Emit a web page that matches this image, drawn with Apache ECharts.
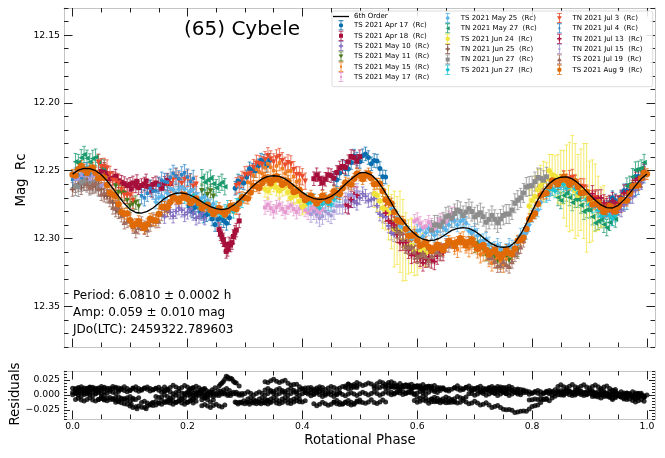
<!DOCTYPE html>
<html>
<head>
<meta charset="utf-8">
<title>(65) Cybele</title>
<script src="https://cdn.jsdelivr.net/npm/echarts@6/dist/echarts.min.js"></script>
<style>
html, body { margin: 0; padding: 0; background: #fff; }
#chart { width: 665px; height: 458px; }
</style>
</head>
<body>
<div id="chart"></div>
<script>
// 6th order Fourier fit
var fitPhase = [0.00,0.01,0.02,0.03,0.04,0.05,0.06,0.07,0.08,0.09,0.10,0.11,0.12,0.13,0.14,0.15,0.16,0.17,0.18,0.19,
    0.20,0.21,0.22,0.23,0.24,0.25,0.26,0.27,0.28,0.29,0.30,0.31,0.32,0.33,0.34,0.35,0.36,0.37,0.38,0.39,
    0.40,0.41,0.42,0.43,0.44,0.45,0.46,0.47,0.48,0.49,0.50,0.51,0.52,0.53,0.54,0.55,0.56,0.57,0.58,0.59,
    0.60,0.61,0.62,0.63,0.64,0.65,0.66,0.67,0.68,0.69,0.70,0.71,0.72,0.73,0.74,0.75,0.76,0.77,0.78,0.79,
    0.80,0.81,0.82,0.83,0.84,0.85,0.86,0.87,0.88,0.89,0.90,0.91,0.92,0.93,0.94,0.95,0.96,0.97,0.98,0.99,1.00];
var fitMag = [12.2525,12.2495,12.2482,12.2485,12.2500,12.2530,12.2575,12.2630,12.2688,12.2742,
    12.2785,12.2808,12.2812,12.2800,12.2775,12.2740,12.2705,12.2680,12.2666,12.2664,
    12.2672,12.2690,12.2715,12.2742,12.2765,12.2780,12.2787,12.2780,12.2755,12.2720,
    12.2675,12.2630,12.2590,12.2560,12.2542,12.2537,12.2542,12.2560,12.2590,12.2625,
    12.2660,12.2688,12.2705,12.2712,12.2708,12.2690,12.2660,12.2620,12.2580,12.2545,
    12.2515,12.2512,12.2530,12.2570,12.2630,12.2700,12.2775,12.2840,12.2895,12.2945,
    12.2982,12.3005,12.3016,12.3012,12.2995,12.2968,12.2940,12.2925,12.2920,12.2925,
    12.2945,12.2975,12.3010,12.3040,12.3060,12.3066,12.3060,12.3030,12.2970,12.2890,
    12.2800,12.2715,12.2645,12.2595,12.2562,12.2548,12.2546,12.2560,12.2590,12.2630,
    12.2675,12.2718,12.2752,12.2772,12.2775,12.2755,12.2715,12.2665,12.2610,12.2560,12.2525];

// observations [phase, mag]
var apr17 = [[0.203,12.2762],[0.213,12.2772],[0.223,12.2806],[0.233,12.2825],[0.243,12.2856],[0.253,12.2859],[0.263,12.2869],[0.273,12.2847],
    [0.283,12.2629],[0.293,12.2584],[0.303,12.2546],[0.313,12.2496],[0.323,12.2464],[0.333,12.2431],[0.343,12.2422],
    [0.455,12.2558],[0.465,12.2516],[0.475,12.2485],[0.485,12.2440],[0.495,12.2414],[0.505,12.2390],[0.515,12.2403],[0.525,12.2425],[0.535,12.2484],[0.545,12.2547],
    [0.935,12.2737],[0.945,12.2721],[0.955,12.2700],[0.965,12.2647],[0.975,12.2602],[0.985,12.2543],[0.995,12.2505],
    [0.208,12.2797],[0.218,12.2754],[0.228,12.2835],[0.238,12.2815],[0.248,12.2897],[0.258,12.2849],[0.268,12.2888],
    [0.288,12.2576],[0.298,12.2590],[0.308,12.2486],[0.318,12.2500],[0.328,12.2422],[0.338,12.2461],
    [0.460,12.2567],[0.470,12.2470],[0.480,12.2487],[0.490,12.2392],[0.500,12.2432],[0.510,12.2376],[0.520,12.2449],[0.530,12.2429],[0.540,12.2545],
    [0.940,12.2699],[0.950,12.2740],[0.960,12.2648],[0.970,12.2659],[0.980,12.2542],[0.990,12.2549]];
var apr18 = [[0.050,12.2504],[0.060,12.2522],[0.070,12.2555],[0.080,12.2574],[0.085,12.2585],[0.090,12.2595],[0.095,12.2610],[0.100,12.2600],[0.105,12.2590],[0.110,12.2612],
    [0.115,12.2625],[0.120,12.2609],[0.125,12.2598],[0.130,12.2615],[0.135,12.2620],[0.140,12.2601],[0.145,12.2590],[0.150,12.2603],[0.160,12.2593],[0.170,12.2594],
    [0.255,12.2934],[0.260,12.2987],[0.265,12.3044],[0.270,12.3080],[0.275,12.3048],[0.280,12.2985],[0.285,12.2938],[0.290,12.2870],
    [0.420,12.2559],[0.430,12.2559],[0.440,12.2563],[0.450,12.2536],[0.460,12.2513],[0.470,12.2468],[0.480,12.2434],[0.490,12.2402],[0.500,12.2397],
    [0.055,12.2490],[0.065,12.2560],[0.075,12.2540],[0.102,12.2635],[0.112,12.2580],[0.128,12.2575],[0.138,12.2645],[0.155,12.2630],[0.165,12.2570],
    [0.2575,12.2965],[0.2625,12.3010],[0.2675,12.3095],[0.2725,12.3040],[0.2775,12.3030],[0.2825,12.2955],
    [0.425,12.2530],[0.435,12.2590],[0.445,12.2530],[0.455,12.2555],[0.465,12.2480],[0.475,12.2475],[0.485,12.2395],[0.495,12.2430]];
var may10 = [[0.160,12.2838],[0.170,12.2806],[0.180,12.2801],[0.190,12.2791],[0.200,12.2806],[0.210,12.2815],[0.220,12.2837],[0.230,12.2849],
    [0.480,12.2764],[0.490,12.2722],[0.500,12.2700],[0.510,12.2688],[0.520,12.2713],[0.530,12.2758],[0.540,12.2834],[0.550,12.2907],[0.560,12.2972],
    [0.940,12.2808],[0.950,12.2781],[0.960,12.2750],[0.970,12.2692],[0.980,12.2644],[0.990,12.2588],
    [0.165,12.2790],[0.175,12.2835],[0.185,12.2775],[0.195,12.2825],[0.205,12.2785],[0.215,12.2850],[0.225,12.2815],
    [0.485,12.2720],[0.495,12.2740],[0.505,12.2670],[0.515,12.2720],[0.525,12.2705],[0.535,12.2820],[0.545,12.2840],[0.555,12.2960],
    [0.945,12.2770],[0.955,12.2790],[0.965,12.2700],[0.975,12.2690],[0.985,12.2590]];
var may11 = [[0.075,12.2612],[0.085,12.2661],[0.095,12.2719],[0.105,12.2744],[0.115,12.2764],
    [0.225,12.2648],[0.235,12.2676],[0.245,12.2688],
    [0.695,12.3018],[0.705,12.3036],[0.715,12.3077],[0.725,12.3102],[0.735,12.3134],[0.745,12.3138],[0.755,12.3146],[0.765,12.3123],[0.775,12.3084],
    [0.080,12.2660],[0.090,12.2670],[0.100,12.2760],[0.110,12.2735],[0.230,12.2690],[0.240,12.2650],
    [0.700,12.3055],[0.710,12.3030],[0.720,12.3115],[0.730,12.3090],[0.740,12.3165],[0.750,12.3110],[0.760,12.3160],[0.770,12.3080]];
var may15 = [[0.305,12.2585],[0.315,12.2536],[0.325,12.2510],[0.335,12.2478],[0.345,12.2474],[0.355,12.2465],[0.365,12.2484],[0.375,12.2503],[0.385,12.2542],[0.395,12.2570],
    [0.665,12.3055],[0.675,12.3038],[0.685,12.3047],[0.695,12.3052],[0.705,12.3084],[0.715,12.3107],[0.725,12.3148],[0.735,12.3158],[0.745,12.3167],[0.755,12.3150],
    [0.310,12.2590],[0.320,12.2490],[0.330,12.2520],[0.340,12.2450],[0.350,12.2500],[0.360,12.2440],[0.370,12.2520],[0.380,12.2500],[0.390,12.2580],
    [0.670,12.3080],[0.680,12.3010],[0.690,12.3075],[0.700,12.3040],[0.710,12.3120],[0.720,12.3100],[0.730,12.3180],[0.740,12.3140],[0.750,12.3190]];
var may17 = [[0.335,12.2771],[0.345,12.2776],[0.355,12.2769],[0.365,12.2781],[0.375,12.2772],[0.385,12.2783],[0.395,12.2778],[0.405,12.2789],[0.415,12.2782],[0.425,12.2794],[0.435,12.2785],
    [0.595,12.2873],[0.605,12.2889],[0.615,12.2910],[0.625,12.2902],[0.635,12.2897],[0.645,12.2870],[0.655,12.2847],[0.665,12.2818],
    [0.340,12.2750],[0.350,12.2800],[0.360,12.2750],[0.370,12.2805],[0.380,12.2755],[0.390,12.2805],[0.400,12.2760],[0.410,12.2810],[0.420,12.2770],[0.430,12.2810],
    [0.600,12.2860],[0.610,12.2920],[0.620,12.2880],[0.630,12.2925],[0.640,12.2865],[0.650,12.2880],[0.660,12.2820]];
var may25 = [[0.145,12.2731],[0.155,12.2688],[0.165,12.2667],[0.175,12.2640],[0.185,12.2639],[0.195,12.2636],[0.205,12.2654],[0.215,12.2668],[0.225,12.2703],[0.235,12.2720],[0.245,12.2746],
    [0.555,12.2783],[0.565,12.2851],[0.575,12.2925],[0.585,12.2960],[0.595,12.2984],[0.605,12.2938],[0.615,12.2958],[0.625,12.2951],[0.635,12.2948],[0.645,12.2919],
    [0.655,12.2898],[0.665,12.2870],[0.675,12.2875],[0.685,12.2888],[0.695,12.2960],[0.705,12.2977],[0.715,12.3016],[0.725,12.3040],[0.735,12.3073],[0.745,12.3079],
    [0.755,12.3088],[0.765,12.3062],[0.775,12.3034],[0.785,12.2968],[0.795,12.2898],[0.805,12.2803],[0.815,12.2735],[0.825,12.2667],[0.835,12.2632],[0.845,12.2603],[0.855,12.2590],
    [0.150,12.2700],[0.160,12.2705],[0.170,12.2630],[0.180,12.2665],[0.190,12.2615],[0.200,12.2670],[0.210,12.2635],[0.220,12.2710],[0.230,12.2690],[0.240,12.2760],
    [0.560,12.2790],[0.570,12.2910],[0.580,12.2920],[0.590,12.3000],[0.600,12.2945],[0.610,12.2985],[0.620,12.2930],[0.630,12.2975],[0.640,12.2905],[0.650,12.2935],
    [0.660,12.2865],[0.670,12.2900],[0.680,12.2860],[0.690,12.2945],[0.700,12.2940],[0.710,12.3020],[0.720,12.3005],[0.730,12.3080],[0.740,12.3050],[0.750,12.3110],
    [0.760,12.3050],[0.770,12.3075],[0.780,12.2975],[0.790,12.2955],[0.800,12.2830],[0.810,12.2790],[0.820,12.2680],[0.830,12.2670],[0.840,12.2595],[0.850,12.2620]];
var may27 = [[0.005,12.2433],[0.015,12.2404],[0.025,12.2408],[0.035,12.2409],[0.045,12.2439],[0.055,12.2480],
    [0.225,12.2551],[0.235,12.2569],[0.245,12.2597],[0.255,12.2601],[0.265,12.2618],
    [0.845,12.2698],[0.855,12.2683],[0.865,12.2698],[0.875,12.2712],[0.885,12.2754],[0.895,12.2787],[0.905,12.2840],[0.915,12.2873],[0.925,12.2896],[0.935,12.2881],[0.945,12.2857],
    [0.965,12.2613],[0.975,12.2544],[0.985,12.2490],[0.995,12.2439],
    [0.010,12.2440],[0.020,12.2380],[0.030,12.2435],[0.040,12.2400],[0.050,12.2475],
    [0.230,12.2585],[0.240,12.2555],[0.250,12.2625],[0.260,12.2585],
    [0.850,12.2720],[0.860,12.2665],[0.870,12.2735],[0.880,12.2710],[0.890,12.2800],[0.900,12.2790],[0.910,12.2885],[0.920,12.2860],[0.930,12.2920],[0.940,12.2845],
    [0.970,12.2600],[0.980,12.2495],[0.990,12.2480]];
var jun24 = [[0.335,12.2634],[0.345,12.2616],[0.355,12.2625],[0.365,12.2628],[0.375,12.2659],[0.385,12.2686],[0.395,12.2726],[0.405,12.2750],
    [0.525,12.2670],[0.535,12.2724],[0.545,12.2787],[0.555,12.2875],[0.565,12.2941],[0.575,12.3013],[0.585,12.3061],[0.595,12.3094],[0.605,12.3100],[0.615,12.3108],
    [0.795,12.2760],[0.805,12.2690],[0.815,12.2610],[0.825,12.2560],[0.835,12.2530],[0.845,12.2560],[0.855,12.2600],[0.865,12.2620],[0.875,12.2650],[0.885,12.2640],
    [0.895,12.2700],[0.905,12.2720],[0.915,12.2740],[0.925,12.2760],
    [0.340,12.2650],[0.350,12.2595],[0.360,12.2650],[0.370,12.2620],[0.380,12.2700],[0.390,12.2680],[0.400,12.2765],
    [0.530,12.2680],[0.540,12.2775],[0.550,12.2810],[0.560,12.2930],[0.570,12.2950],[0.580,12.3060],[0.590,12.3050],[0.600,12.3120],[0.610,12.3080],
    [0.800,12.2720],[0.810,12.2640],[0.820,12.2580],[0.830,12.2500],[0.840,12.2540],[0.850,12.2550],[0.860,12.2610],[0.870,12.2590],[0.880,12.2680],
    [0.890,12.2650],[0.900,12.2730],[0.910,12.2700],[0.920,12.2770]];
var jun24Err = [0.006,0.006,0.006,0.006,0.006,0.006,0.006,0.006,
    0.010,0.012,0.015,0.020,0.025,0.030,0.020,0.018,0.012,0.010,
    0.012,0.015,0.015,0.012,0.015,0.018,0.025,0.033,0.035,0.030,0.040,0.030,0.020,0.015,
    0.006,0.006,0.006,0.006,0.006,0.006,0.006,
    0.012,0.015,0.020,0.028,0.030,0.025,0.020,0.015,0.012,
    0.012,0.015,0.015,0.012,0.015,0.020,0.030,0.035,0.030,0.035,0.030,0.025,0.015];
var jun25 = [[0.000,12.2638],[0.010,12.2601],[0.020,12.2597],[0.030,12.2592],[0.040,12.2614],[0.050,12.2638],[0.060,12.2688],[0.070,12.2736],[0.080,12.2803],
    [0.555,12.2873],[0.565,12.2941],[0.575,12.3015],[0.585,12.3060],[0.595,12.3104],[0.605,12.3121],[0.615,12.3138],[0.625,12.3131],
    [0.005,12.2610],[0.015,12.2625],[0.025,12.2575],[0.035,12.2620],[0.045,12.2600],[0.055,12.2680],[0.065,12.2690],[0.075,12.2790],
    [0.560,12.2920],[0.570,12.2955],[0.580,12.3055],[0.590,12.3065],[0.600,12.3130],[0.610,12.3110],[0.620,12.3160]];
var jun27tn = [[0.005,12.2613],[0.015,12.2584],[0.025,12.2588],[0.035,12.2589],[0.045,12.2619],
    [0.625,12.2938],[0.635,12.2899],[0.645,12.2877],[0.655,12.2831],[0.665,12.2816],[0.675,12.2800],[0.685,12.2805],[0.695,12.2801],[0.705,12.2825],[0.715,12.2839],
    [0.725,12.2859],[0.735,12.2858],[0.745,12.2856],[0.755,12.2819],[0.765,12.2790],[0.775,12.2717],[0.785,12.2664],[0.795,12.2613],[0.805,12.2580],[0.815,12.2556],[0.825,12.2545],
    [0.010,12.2620],[0.020,12.2570],[0.030,12.2610],[0.040,12.2585],
    [0.630,12.2900],[0.640,12.2910],[0.650,12.2840],[0.660,12.2850],[0.670,12.2790],[0.680,12.2830],[0.690,12.2780],[0.700,12.2840],[0.710,12.2810],[0.720,12.2880],
    [0.730,12.2830],[0.740,12.2885],[0.750,12.2830],[0.760,12.2820],[0.770,12.2740],[0.780,12.2700],[0.790,12.2620],[0.800,12.2610],[0.810,12.2550],[0.820,12.2570]];
var jun27ts = [[0.195,12.2691],[0.205,12.2697],[0.215,12.2727],[0.225,12.2745],[0.235,12.2777],[0.245,12.2790],[0.255,12.2807],[0.265,12.2800],[0.275,12.2793],[0.285,12.2755],[0.295,12.2722],
    [0.405,12.2717],[0.415,12.2733],[0.425,12.2754],[0.435,12.2747],[0.445,12.2743],[0.455,12.2713],[0.465,12.2683],
    [0.825,12.2683],[0.835,12.2634],[0.845,12.2620],[0.855,12.2604],[0.865,12.2617],[0.875,12.2633],[0.885,12.2673],[0.895,12.2708],[0.905,12.2762],[0.915,12.2792],[0.925,12.2826],[0.935,12.2832],[0.945,12.2828],
    [0.200,12.2720],[0.210,12.2685],[0.220,12.2760],[0.230,12.2735],[0.240,12.2810],[0.250,12.2775],[0.260,12.2830],[0.270,12.2770],[0.280,12.2800],[0.290,12.2715],
    [0.410,12.2740],[0.420,12.2720],[0.430,12.2775],[0.440,12.2725],[0.450,12.2750],[0.460,12.2680],
    [0.830,12.2640],[0.840,12.2650],[0.850,12.2590],[0.860,12.2630],[0.870,12.2600],[0.880,12.2665],[0.890,12.2670],[0.900,12.2750],[0.910,12.2755],[0.920,12.2835],[0.930,12.2800],[0.940,12.2855]];
var jul3 = [[0.045,12.2438],[0.055,12.2468],[0.065,12.2527],[0.075,12.2576],[0.085,12.2639],[0.095,12.2682],[0.105,12.2720],
    [0.165,12.2595],[0.175,12.2569],[0.185,12.2570],[0.195,12.2565],[0.205,12.2585],[0.215,12.2600],
    [0.285,12.2611],[0.295,12.2564],[0.305,12.2527],[0.315,12.2477],[0.325,12.2449],[0.335,12.2419],[0.345,12.2413],[0.355,12.2406],[0.365,12.2426],[0.375,12.2442],[0.385,12.2492],[0.395,12.2531],[0.405,12.2577],
    [0.855,12.2560],[0.865,12.2559],[0.875,12.2590],[0.885,12.2617],[0.895,12.2666],[0.905,12.2705],[0.915,12.2748],[0.925,12.2768],[0.935,12.2789],[0.945,12.2772],[0.955,12.2749],
    [0.050,12.2470],[0.060,12.2480],[0.070,12.2570],[0.080,12.2590],[0.090,12.2680],[0.100,12.2680],
    [0.170,12.2600],[0.180,12.2545],[0.190,12.2595],[0.200,12.2555],[0.210,12.2615],
    [0.290,12.2600],[0.300,12.2530],[0.310,12.2520],[0.320,12.2445],[0.330,12.2455],[0.340,12.2390],[0.350,12.2435],[0.360,12.2395],[0.370,12.2460],[0.380,12.2450],[0.390,12.2530],[0.400,12.2545],
    [0.860,12.2585],[0.870,12.2550],[0.880,12.2625],[0.890,12.2620],[0.900,12.2705],[0.910,12.2700],[0.920,12.2780],[0.930,12.2750],[0.940,12.2810],[0.950,12.2745]];
var jul4 = [[0.000,12.2565],[0.010,12.2532],[0.020,12.2526],[0.030,12.2523],
    [0.120,12.2685],[0.130,12.2666],[0.140,12.2650],[0.150,12.2607],[0.160,12.2579],[0.170,12.2548],[0.180,12.2539],[0.190,12.2530],[0.200,12.2547],[0.210,12.2557],
    [0.920,12.2765],[0.930,12.2778],[0.940,12.2790],[0.950,12.2762],[0.960,12.2729],[0.970,12.2673],[0.980,12.2623],[0.990,12.2566],
    [0.005,12.2540],[0.015,12.2550],[0.025,12.2500],
    [0.125,12.2700],[0.135,12.2630],[0.145,12.2650],[0.155,12.2570],[0.165,12.2585],[0.175,12.2520],[0.185,12.2560],[0.195,12.2515],[0.205,12.2580],
    [0.925,12.2790],[0.935,12.2760],[0.945,12.2800],[0.955,12.2720],[0.965,12.2725],[0.975,12.2630],[0.985,12.2615],[0.995,12.2530]];
var jul13 = [[0.475,12.2750],[0.485,12.2712],[0.495,12.2680],
    [0.545,12.2813],[0.555,12.2886],[0.565,12.2970],[0.575,12.3027],[0.585,12.3087],[0.595,12.3115],[0.605,12.3146],[0.615,12.3153],[0.625,12.3159],[0.635,12.3130],[0.645,12.3104],
    [0.905,12.2670],[0.915,12.2701],[0.925,12.2737],[0.935,12.2741],[0.945,12.2739],[0.955,12.2703],[0.965,12.2663],[0.975,12.2604],[0.985,12.2557],[0.995,12.2509],
    [0.480,12.2760],[0.490,12.2675],
    [0.550,12.2870],[0.560,12.2900],[0.570,12.3030],[0.580,12.3030],[0.590,12.3125],[0.600,12.3110],[0.610,12.3180],[0.620,12.3135],[0.630,12.3170],[0.640,12.3100],
    [0.910,12.2710],[0.920,12.2700],[0.930,12.2765],[0.940,12.2720],[0.950,12.2745],[0.960,12.2665],[0.970,12.2655],[0.980,12.2570],[0.990,12.2560]];
var jul15 = [[0.005,12.2563],[0.015,12.2534],[0.025,12.2538],[0.035,12.2539],[0.045,12.2569],[0.055,12.2600],
    [0.415,12.2820],[0.425,12.2825],[0.435,12.2835],[0.445,12.2816],[0.455,12.2799],[0.465,12.2758],[0.475,12.2723],[0.485,12.2678],[0.495,12.2655],
    [0.010,12.2560],[0.020,12.2510],[0.030,12.2565],[0.040,12.2530],[0.050,12.2610],
    [0.420,12.2800],[0.430,12.2850],[0.440,12.2800],[0.450,12.2830],[0.460,12.2760],[0.470,12.2760],[0.480,12.2680],[0.490,12.2690]];
var jul19 = [[0.025,12.2596],[0.035,12.2598],[0.045,12.2630],[0.055,12.2659],[0.065,12.2716],[0.075,12.2767],[0.085,12.2828],[0.095,12.2870],[0.105,12.2912],[0.115,12.2917],
    [0.125,12.2920],[0.135,12.2896],[0.145,12.2871],[0.155,12.2818],[0.165,12.2787],
    [0.565,12.2948],[0.575,12.3006],[0.585,12.3068],[0.595,12.3097],[0.605,12.3127],[0.615,12.3133],[0.625,12.3128],[0.635,12.3099],[0.645,12.3087],[0.655,12.3051],
    [0.725,12.3138],[0.735,12.3166],[0.745,12.3198],[0.755,12.3190],[0.765,12.3169],[0.775,12.3098],[0.785,12.3013],
    [0.030,12.2620],[0.040,12.2590],[0.050,12.2670],[0.060,12.2660],[0.070,12.2770],[0.080,12.2770],[0.090,12.2880],[0.100,12.2860],[0.110,12.2945],[0.120,12.2890],
    [0.130,12.2935],[0.140,12.2860],[0.150,12.2870],[0.160,12.2775],
    [0.570,12.2960],[0.580,12.3060],[0.590,12.3060],[0.600,12.3135],[0.610,12.3110],[0.620,12.3160],[0.630,12.3095],[0.640,12.3115],[0.650,12.3050],
    [0.730,12.3140],[0.740,12.3200],[0.750,12.3170],[0.760,12.3205],[0.770,12.3120],[0.780,12.3060]];
var aug9 = [[0.000,12.2530],[0.005,12.2535],[0.010,12.2490],[0.015,12.2466],[0.020,12.2492],[0.025,12.2516],[0.030,12.2490],[0.035,12.2477],[0.040,12.2515],[0.045,12.2557],
    [0.050,12.2550],[0.055,12.2552],[0.060,12.2605],[0.065,12.2665],[0.070,12.2675],[0.075,12.2686],[0.080,12.2748],[0.085,12.2807],[0.090,12.2817],[0.095,12.2816],
    [0.100,12.2865],[0.105,12.2904],[0.110,12.2893],[0.115,12.2872],[0.120,12.2902],[0.125,12.2923],[0.130,12.2895],[0.135,12.2855],[0.140,12.2865],[0.145,12.2867],
    [0.150,12.2820],[0.155,12.2767],[0.160,12.2765],[0.165,12.2772],[0.170,12.2730],[0.175,12.2693],[0.180,12.2706],[0.185,12.2727],[0.190,12.2699],[0.195,12.2678],
    [0.200,12.2707],[0.205,12.2738],[0.210,12.2720],[0.215,12.2705],[0.220,12.2740],[0.225,12.2776],[0.230,12.2762],[0.235,12.2751],[0.240,12.2790],[0.245,12.2820],
    [0.250,12.2800],[0.255,12.2776],[0.260,12.2802],[0.265,12.2823],[0.270,12.2795],[0.275,12.2760],[0.280,12.2775],[0.285,12.2782],[0.290,12.2740],[0.295,12.2695],
    [0.300,12.2700],[0.305,12.2705],[0.310,12.2660],[0.315,12.2612],[0.320,12.2615],[0.325,12.2627],[0.330,12.2590],[0.335,12.2553],[0.340,12.2567],[0.345,12.2592],
    [0.350,12.2567],[0.355,12.2542],[0.360,12.2567],[0.365,12.2603],[0.370,12.2590],[0.375,12.2577],[0.380,12.2615],[0.385,12.2657],[0.390,12.2650],[0.395,12.2640],
    [0.400,12.2680],[0.405,12.2716],[0.410,12.2703],[0.415,12.2684],[0.420,12.2715],[0.425,12.2741],[0.430,12.2717],[0.435,12.2685],[0.440,12.2703],[0.445,12.2721],
    [0.450,12.2690],[0.455,12.2652],[0.460,12.2665],[0.465,12.2672],[0.470,12.2630],[0.475,12.2587],[0.480,12.2595],[0.485,12.2602],[0.490,12.2560],[0.495,12.2522],
    [0.500,12.2535],[0.505,12.2561],[0.510,12.2537],[0.515,12.2521],[0.520,12.2555],[0.525,12.2600],[0.530,12.2595],[0.535,12.2597],[0.540,12.2650],[0.545,12.2715],
    [0.550,12.2730],[0.555,12.2742],[0.560,12.2805],[0.565,12.2865],[0.570,12.2875],[0.575,12.2877],[0.580,12.2930],[0.585,12.2980],[0.590,12.2980],[0.595,12.2972],
    [0.600,12.3015],[0.605,12.3053],[0.610,12.3042],[0.615,12.3027],[0.620,12.3063],[0.625,12.3092],[0.630,12.3072],[0.635,12.3046],[0.640,12.3070],[0.645,12.3086],
    [0.650,12.3053],[0.655,12.3019],[0.660,12.3035],[0.665,12.3055],[0.670,12.3025],[0.675,12.3000],[0.680,12.3025],[0.685,12.3050],[0.690,12.3025],[0.695,12.3007],
    [0.700,12.3040],[0.705,12.3075],[0.710,12.3060],[0.715,12.3047],[0.720,12.3085],[0.725,12.3117],[0.730,12.3100],[0.735,12.3082],[0.740,12.3115],[0.745,12.3140],
    [0.750,12.3116],[0.755,12.3085],[0.760,12.3105],[0.765,12.3115],[0.770,12.3075],[0.775,12.3017],[0.780,12.3010],[0.785,12.2995],[0.790,12.2930],[0.795,12.2857],
    [0.800,12.2835],[0.805,12.2815],[0.810,12.2745],[0.815,12.2682],[0.820,12.2670],[0.825,12.2667],[0.830,12.2615],[0.835,12.2573],[0.840,12.2582],[0.845,12.2600],
    [0.850,12.2568],[0.855,12.2544],[0.860,12.2571],[0.865,12.2603],[0.870,12.2585],[0.875,12.2577],[0.880,12.2620],[0.885,12.2665],[0.890,12.2660],[0.895,12.2657],
    [0.900,12.2705],[0.905,12.2749],[0.910,12.2743],[0.915,12.2732],[0.920,12.2772],[0.925,12.2804],[0.930,12.2787],[0.935,12.2761],[0.940,12.2785],[0.945,12.2800],
    [0.950,12.2765],[0.955,12.2717],[0.960,12.2720],[0.965,12.2720],[0.970,12.2670],[0.975,12.2615],[0.980,12.2610],[0.985,12.2607],[0.990,12.2555],[0.995,12.2515],[1.000,12.2525]];

var names = ['TS 2021 Apr 17  (Rc)', 'TS 2021 Apr 18  (Rc)', 'TS 2021 May 10  (Rc)', 'TS 2021 May 11  (Rc)',
    'TS 2021 May 15  (Rc)', 'TS 2021 May 17  (Rc)', 'TS 2021 May 25  (Rc)', 'TN 2021 May 27  (Rc)',
    'TS 2021 Jun 24  (Rc)', 'TN 2021 Jun 25  (Rc)', 'TN 2021 Jun 27  (Rc)', 'TS 2021 Jun 27  (Rc)',
    'TN 2021 Jul 3  (Rc)', 'TN 2021 Jul 4  (Rc)', 'TN 2021 Jul 13  (Rc)', 'TN 2021 Jul 15  (Rc)',
    'TS 2021 Jul 19  (Rc)', 'TS 2021 Aug 9  (Rc)'];
var sets = [apr17, apr18, may10, may11, may15, may17, may25, may27, jun24, jun25, jun27tn, jun27ts, jul3, jul4, jul13, jul15, jul19, aug9];
var errSize = [0.005, 0.005, 0.005, 0.005, 0.006, 0.005, 0.005, 0.006, jun24Err, 0.005, 0.007, 0.005, 0.006, 0.006, 0.006, 0.006, 0.005, 0.004];

var colors = ['#0a6fb0', '#a50f3a', '#7f6bbf', '#4b7a1e', '#f07d1e', '#e59ad0', '#5ab4ea', '#1a9a6c', '#f2e33a',
    '#8c5a4b', '#8d8d8d', '#1cc2d6', '#ea4b2c', '#2f86c9', '#b1113f', '#a397d6', '#a06a5c', '#e06a06'];
var kinds = ['circle', 'square', 'plus', 'tridown', 'small', 'small', 'diamond', 'trileft', 'circle',
    'plus', 'square', 'diamond', 'tridown', 'small', 'plus', 'small', 'triup', 'circle'];
var sizes = [5, 5, 5.5, 5.5, 3.5, 4, 5.5, 5.5, 5.5, 5.5, 5, 5.5, 5.5, 3.5, 5.5, 3.5, 5.5, 6.5];

var scatterSymbol = {
    circle: 'circle',
    square: 'rect',
    diamond: 'diamond',
    plus: 'path://M3.5,0h3v3.5h3.5v3h-3.5v3.5h-3v-3.5h-3.5v-3h3.5z',
    tridown: 'path://M0,0L10,0L5,8.6Z',
    triup: 'path://M5,0L10,8.6L0,8.6Z',
    trileft: 'path://M8.6,0L8.6,10L0,5Z',
    small: 'rect'
};
var iconBar = 'M3.6,0h0.8v10h-0.8z M1.6,0h4.8v0.8h-4.8z M1.6,9.2h4.8v0.8h-4.8z ';
var iconMarker = {
    circle: 'M1.8,5a2.2,2.2 0 1,1 4.4,0a2.2,2.2 0 1,1 -4.4,0z',
    square: 'M2,3h4v4h-4z',
    diamond: 'M4,2.4l2.2,2.6l-2.2,2.6l-2.2,-2.6z',
    plus: 'M1.8,4.3h4.4v1.4h-4.4z M3.3,2.8h1.4v4.4h-1.4z',
    tridown: 'M1.6,3.2h4.8l-2.4,4z',
    triup: 'M4,2.8l2.4,4h-4.8z',
    trileft: 'M6,2.8v4.4l-4,-2.2z',
    small: 'M3,4h2v2h-2z'
};

var X_MIN = -0.015, X_MAX = 1.014;
var SPINE = '#c4c4c4', TICK = '#222', FONT = 'DejaVu Sans';

function fitAt(p) {
    for (var i = 0; i < fitPhase.length - 1; i++) {
        if (p <= fitPhase[i + 1]) {
            var t = (p - fitPhase[i]) / (fitPhase[i + 1] - fitPhase[i]);
            return fitMag[i] + t * (fitMag[i + 1] - fitMag[i]);
        }
    }
    return fitMag[fitMag.length - 1];
}

function errorBar(params, api) {
    var x = api.value(0), y = api.value(1), e = api.value(2);
    var hi = api.coord([x, y - e]);
    var lo = api.coord([x, y + e]);
    var cap = 1.8;
    var style = { stroke: api.visual('color'), lineWidth: 1, opacity: 0.75 };
    return {
        type: 'group',
        children: [
            { type: 'line', shape: { x1: hi[0], y1: hi[1], x2: lo[0], y2: lo[1] }, style: style },
            { type: 'line', shape: { x1: hi[0] - cap, y1: hi[1], x2: hi[0] + cap, y2: hi[1] }, style: style },
            { type: 'line', shape: { x1: lo[0] - cap, y1: lo[1], x2: lo[0] + cap, y2: lo[1] }, style: style }
        ]
    };
}

// tick positions
var xMajor = [0, 0.2, 0.4, 0.6, 0.8, 1.0];
var xMinor = [];
for (var i = 1; i < 20; i++) { if (i % 4 !== 0) xMinor.push(i * 0.05); }
var yMajor = [12.15, 12.20, 12.25, 12.30, 12.35];
var yMinor = [];
for (var k = 1213; k <= 1238; k++) { if (k % 5 !== 0) yMinor.push(k / 100); }
var rMajor = [-0.025, 0, 0.025];
var rMinor = [];
for (var r = -8; r <= 8; r++) { if (r % 5 !== 0) rMinor.push(r * 0.005); }

function xAx(grid, pos, ticks, len, spine, labels) {
    return {
        type: 'value', gridIndex: grid, position: pos, min: X_MIN, max: X_MAX,
        axisLine: { show: spine, onZero: false, lineStyle: { color: SPINE, width: 1 } },
        axisTick: { show: true, inside: true, length: len, customValues: ticks, lineStyle: { color: TICK, width: 1 } },
        axisLabel: labels ? {
            show: true, customValues: xMajor, margin: 3, color: '#000', fontSize: 9.3, fontFamily: FONT,
            formatter: function (v) { return v.toFixed(1); }
        } : { show: false },
        splitLine: { show: false }
    };
}
function yAx(grid, pos, min, max, inverse, ticks, len, spine, labels, fmt) {
    return {
        type: 'value', gridIndex: grid, position: pos, min: min, max: max, inverse: inverse,
        axisLine: { show: spine, onZero: false, lineStyle: { color: SPINE, width: 1 } },
        axisTick: { show: true, inside: true, length: len, customValues: ticks, lineStyle: { color: TICK, width: 1 } },
        axisLabel: labels ? {
            show: true, customValues: labels, margin: 4, color: '#000', fontSize: 9.3, fontFamily: FONT, formatter: fmt
        } : { show: false },
        splitLine: { show: false }
    };
}
function magFmt(v) { return v.toFixed(2); }
function resFmt(v) {
    if (Math.abs(v) < 1e-9) return '0.000';
    return (v < 0 ? '\u2212' : '') + Math.abs(v).toFixed(3);
}

var series = [];
var resData = [];
sets.forEach(function (set, s) {
    var withErr = set.map(function (d, j) {
        var e = Array.isArray(errSize[s]) ? errSize[s][j] : errSize[s];
        return [d[0], d[1], e];
    });
    series.push({
        name: names[s], type: 'custom', xAxisIndex: 0, yAxisIndex: 0,
        renderItem: errorBar, data: withErr, encode: { x: 0, y: 1 },
        itemStyle: { color: colors[s] }, clip: true, silent: true
    });
    series.push({
        name: names[s], type: 'scatter', xAxisIndex: 0, yAxisIndex: 0,
        data: set, symbol: scatterSymbol[kinds[s]], symbolSize: sizes[s],
        itemStyle: { color: colors[s], opacity: 1 }, silent: true
    });
    set.forEach(function (d) { resData.push([d[0], d[1] - fitAt(d[0])]); });
});
series.push({
    name: '6th Order', type: 'line', xAxisIndex: 0, yAxisIndex: 0, z: 3,
    data: fitPhase.map(function (p, j) { return [p, fitMag[j]]; }),
    showSymbol: false, lineStyle: { color: '#000', width: 1.3 }, itemStyle: { color: '#000' }, silent: true
});
series.push({
    name: 'Residuals', type: 'scatter', xAxisIndex: 4, yAxisIndex: 4,
    data: resData, symbolSize: 5, itemStyle: { color: '#000' }, silent: true
});

function legendItem(s) {
    return { name: names[s], icon: 'path://' + iconBar + iconMarker[kinds[s]], itemStyle: { color: colors[s] } };
}
function legendCol(left, items) {
    return {
        orient: 'vertical', left: left, top: 13, padding: 0, z: 10,
        itemWidth: 16, itemHeight: 10, itemGap: 0.35, selectedMode: false,
        textStyle: { fontSize: 7, fontFamily: FONT, color: '#000' },
        data: items
    };
}
var col1 = [{ name: '6th Order', icon: 'path://M0,0h16v1.3h-16z', itemStyle: { color: '#000', borderWidth: 0 }, lineStyle: { width: 0 } }];
for (var a = 0; a < 6; a++) col1.push(legendItem(a));
var col2 = [], col3 = [];
for (var b = 6; b < 12; b++) col2.push(legendItem(b));
for (var c = 12; c < 18; c++) col3.push(legendItem(c));

var chart = echarts.init(document.getElementById('chart'));
chart.setOption({
    animation: false,
    backgroundColor: '#fff',
    grid: [
        { left: 64, top: 8, width: 591, height: 339, outerBoundsMode: 'none' },
        { left: 64, top: 371, width: 591, height: 48, outerBoundsMode: 'none' }
    ],
    xAxis: [
        xAx(0, 'bottom', xMajor, 8.5, true, false),
        xAx(0, 'bottom', xMinor, 4.5, false, false),
        xAx(0, 'top', xMajor, 8.5, true, false),
        xAx(0, 'top', xMinor, 4.5, false, false),
        xAx(1, 'bottom', xMajor, 8.5, true, true),
        xAx(1, 'bottom', xMinor, 4.5, false, false),
        xAx(1, 'top', xMajor, 8.5, true, false),
        xAx(1, 'top', xMinor, 4.5, false, false)
    ],
    yAxis: [
        yAx(0, 'left', 12.13, 12.38, true, yMajor, 8.5, true, yMajor, magFmt),
        yAx(0, 'left', 12.13, 12.38, true, yMinor, 4.5, false, null, null),
        yAx(0, 'right', 12.13, 12.38, true, yMajor, 8.5, true, null, null),
        yAx(0, 'right', 12.13, 12.38, true, yMinor, 4.5, false, null, null),
        yAx(1, 'left', -0.04, 0.04, false, rMajor, 6, true, rMajor, resFmt),
        yAx(1, 'left', -0.04, 0.04, false, rMinor, 3, false, null, null),
        yAx(1, 'right', -0.04, 0.04, false, rMajor, 6, true, null, null),
        yAx(1, 'right', -0.04, 0.04, false, rMinor, 3, false, null, null)
    ],
    legend: [legendCol(333, col1), legendCol(445.3, col2), legendCol(557, col3)],
    graphic: [
        { type: 'rect', z: 5, shape: { x: 332, y: 11, width: 320.7, height: 75.7, r: 2 },
          style: { fill: 'rgba(255,255,255,0.85)', stroke: '#d4d4d4', lineWidth: 0.8 } },
        { type: 'text', z: 6, x: 242, y: 30,
          style: { text: '(65) Cybele', fontSize: 20, fontFamily: FONT, fill: '#000', align: 'center', verticalAlign: 'middle' } },
        { type: 'text', z: 6, x: 73, y: 296,
          style: { text: 'Period: 6.0810 \u00b1 0.0002 h', fontSize: 12, fontFamily: FONT, fill: '#000', align: 'left', verticalAlign: 'middle' } },
        { type: 'text', z: 6, x: 73, y: 313,
          style: { text: 'Amp: 0.059 \u00b1 0.010 mag', fontSize: 12, fontFamily: FONT, fill: '#000', align: 'left', verticalAlign: 'middle' } },
        { type: 'text', z: 6, x: 73, y: 330,
          style: { text: 'JDo(LTC): 2459322.789603', fontSize: 12, fontFamily: FONT, fill: '#000', align: 'left', verticalAlign: 'middle' } },
        { type: 'text', z: 6, x: 22, y: 180, rotation: Math.PI / 2,
          style: { text: 'Mag  Rc', fontSize: 13.3, fontFamily: FONT, fill: '#000', align: 'center', verticalAlign: 'middle' } },
        { type: 'text', z: 6, x: 15.5, y: 394, rotation: Math.PI / 2,
          style: { text: 'Residuals', fontSize: 13.3, fontFamily: FONT, fill: '#000', align: 'center', verticalAlign: 'middle' } },
        { type: 'text', z: 6, x: 360, y: 441,
          style: { text: 'Rotational Phase', fontSize: 13.3, fontFamily: FONT, fill: '#000', align: 'center', verticalAlign: 'middle' } }
    ],
    series: series
});
</script>
</body>
</html>
